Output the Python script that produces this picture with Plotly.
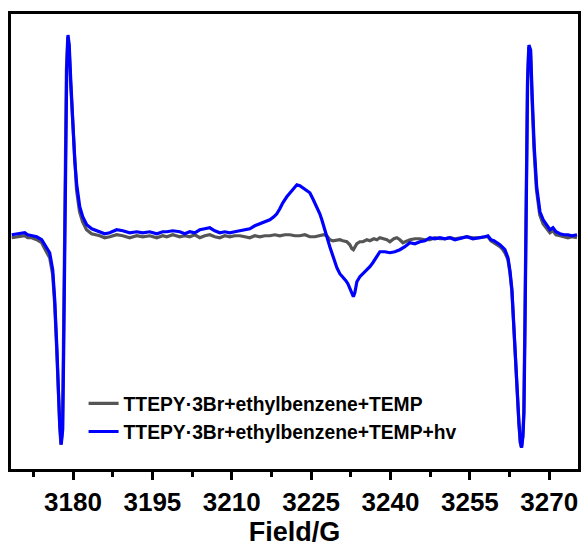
import plotly.graph_objects as go

# Field (G) and intensity (a.u.)
field_dark = [3168.41, 3169.92, 3170.87, 3171.44, 3172.19, 3173.14, 3174.08, 3174.65, 3175.59, 3176.16,
              3176.54, 3176.92, 3177.20, 3177.49, 3177.71, 3178.00, 3178.18, 3178.37, 3178.56, 3178.75,
              3179.00, 3179.24, 3179.53, 3179.91, 3180.28, 3180.66, 3181.23, 3181.80, 3182.55, 3183.50,
              3185.05, 3185.99, 3186.94, 3188.26, 3189.40, 3190.72, 3192.04, 3193.18, 3194.50, 3195.83,
              3196.96, 3197.72, 3198.85, 3200.17, 3201.12, 3202.06, 3203.01, 3203.96, 3204.90, 3205.85,
              3206.79, 3207.74, 3208.68, 3209.63, 3210.57, 3211.52, 3212.46, 3213.41, 3214.35, 3215.30,
              3216.24, 3217.19, 3218.14, 3219.08, 3220.03, 3220.97, 3221.92, 3222.86, 3223.81, 3224.75,
              3225.70, 3226.64, 3227.40, 3227.97, 3228.53, 3229.10, 3229.86, 3230.42, 3230.99, 3231.75,
              3232.32, 3232.69, 3232.98, 3233.26, 3233.64, 3234.21, 3234.77, 3235.53, 3236.10, 3236.85,
              3237.42, 3237.99, 3238.56, 3239.31, 3239.88, 3240.63, 3241.20, 3241.77, 3242.34, 3243.09,
              3243.66, 3244.61, 3245.55, 3246.50, 3247.44, 3248.39, 3249.33, 3250.28, 3251.22, 3252.17,
              3253.11, 3254.44, 3255.57, 3256.89, 3257.84, 3258.41, 3258.97, 3259.54, 3260.11, 3260.68,
              3261.24, 3261.62, 3262.19, 3262.57, 3262.94, 3263.32, 3263.89, 3264.27, 3264.51, 3264.74,
              3264.99, 3265.18, 3265.37, 3265.56, 3265.69, 3265.88, 3266.12, 3266.44, 3266.74, 3267.12,
              3267.58, 3268.20, 3268.82, 3269.47, 3270.13, 3270.70, 3271.26, 3272.02, 3272.78, 3273.53,
              3274.29, 3275.24]
signal_dark = [-2, -1, 0, -2, -2, -4, -7, -13, -22, -39,
               -69, -114, -157, -191, -209, -194, -114, -17, 86, 166,
               199, 189, 154, 114, 71, 46, 24, 14, 6, 2,
               0, -2, -1, 1, 0, -2, 0, -1, 0, -2,
               0, -1, 1, -1, 0, -1, 1, -2, 0, 1,
               -1, -2, 0, -1, 0, 0, -1, -2, 0, -1,
               0, 0, 1, 0, 1, 1, 0, 0, 1, -1,
               -1, 0, 1, 0, -4, -5, -4, -4, -5, -6,
               -9, -13, -14, -11, -8, -6, -6, -4, -5, -3,
               -4, -2, -3, -4, -6, -3, -2, -4, -7, -5,
               -4, -3, -3, -4, -4, -2, -3, -3, -2, -3,
               -2, -1, -2, -2, -1, -1, -5, -7, -9, -11,
               -14, -17, -24, -37, -56, -97, -147, -189, -207, -212,
               -201, -177, -94, 6, 73, 154, 189, 184, 137, 86,
               46, 21, 12, 7, 3, 5, 1, 0, -1, -2,
               -1, -2]

field_light = [3168.41, 3169.92, 3170.87, 3171.44, 3172.19, 3173.14, 3174.08, 3174.65, 3175.59, 3176.16,
               3176.54, 3176.92, 3177.20, 3177.49, 3177.77, 3178.05, 3178.24, 3178.43, 3178.62, 3178.81,
               3179.05, 3179.28, 3179.57, 3179.94, 3180.32, 3180.70, 3181.27, 3181.83, 3182.59, 3183.54,
               3185.05, 3185.99, 3186.94, 3188.26, 3189.40, 3190.72, 3192.04, 3193.18, 3194.50, 3195.83,
               3196.96, 3197.72, 3198.85, 3200.17, 3201.12, 3202.06, 3203.01, 3203.96, 3204.90, 3205.85,
               3206.79, 3207.74, 3208.68, 3209.63, 3210.57, 3211.52, 3212.46, 3213.41, 3214.35, 3215.30,
               3216.24, 3217.19, 3217.95, 3218.51, 3219.08, 3219.65, 3220.40, 3220.97, 3221.73, 3222.30,
               3222.86, 3223.43, 3224.00, 3224.75, 3225.32, 3226.08, 3226.64, 3227.02, 3227.59, 3227.97,
               3228.53, 3228.91, 3229.48, 3229.86, 3230.42, 3230.99, 3231.56, 3231.94, 3232.32, 3232.69,
               3232.98, 3233.26, 3233.64, 3234.21, 3234.77, 3235.53, 3236.10, 3236.66, 3237.42, 3237.99,
               3238.93, 3239.88, 3240.82, 3241.77, 3242.71, 3243.66, 3244.61, 3245.55, 3246.50, 3247.44,
               3248.39, 3249.33, 3250.28, 3251.22, 3252.17, 3253.11, 3254.44, 3255.57, 3256.89, 3257.84,
               3258.41, 3258.97, 3259.54, 3260.11, 3260.68, 3261.24, 3261.62, 3262.19, 3262.57, 3262.94,
               3263.32, 3263.89, 3264.27, 3264.55, 3264.78, 3265.03, 3265.22, 3265.41, 3265.59, 3265.73,
               3265.91, 3266.16, 3266.48, 3266.78, 3267.16, 3267.62, 3268.24, 3268.86, 3269.50, 3270.13,
               3270.70, 3271.26, 3272.02, 3272.78, 3273.53, 3274.29, 3275.24]
signal_light = [1, 2, 3, 1, 0, -1, -4, -9, -17, -34,
                -64, -109, -154, -189, -209, -194, -114, -17, 86, 166,
                201, 191, 156, 116, 76, 51, 29, 19, 11, 7,
                4, 2, 3, 6, 5, 3, 4, 3, 4, 2,
                4, 4, 5, 4, 2, 4, 3, 6, 7, 8,
                5, 3, 4, 3, 4, 5, 6, 7, 10, 12,
                14, 16, 19, 22, 27, 33, 39, 43, 48, 51,
                50, 48, 46, 43, 37, 29, 22, 16, 5, -1,
                -11, -17, -26, -32, -38, -41, -45, -48, -53, -59,
                -61, -57, -46, -41, -38, -35, -31, -27, -21, -16,
                -16, -17, -16, -14, -11, -7, -8, -6, -5, -2,
                -3, -2, -3, -2, -4, -3, -1, -3, -2, -1,
                0, -4, -5, -7, -9, -12, -14, -22, -35, -54,
                -94, -144, -187, -207, -212, -200, -177, -94, 6, 73,
                156, 191, 186, 139, 89, 49, 24, 16, 11, 6,
                8, 4, 2, 1, 1, 0, 1]

series_names = ["TTEPY\u00b73Br+ethylbenzene+TEMP", "TTEPY\u00b73Br+ethylbenzene+TEMP+hv"]
series_colors = ["#555555", "#0000ff"]
tick_vals = [3180, 3195, 3210, 3225, 3240, 3255, 3270]
x_title = "Field/G"

fig = go.Figure()
fig.add_trace(go.Scatter(x=field_dark, y=signal_dark, mode="lines", name=series_names[0],
                         line=dict(color=series_colors[0], width=3.2)))
fig.add_trace(go.Scatter(x=field_light, y=signal_light, mode="lines", name=series_names[1],
                         line=dict(color=series_colors[1], width=3.2)))

fig.update_layout(
    width=582, height=547,
    margin=dict(l=11, r=4, t=14, b=78, autoexpand=False),
    paper_bgcolor="white", plot_bgcolor="white",
    font=dict(family="Arial, Liberation Sans, sans-serif", color="black"),
    showlegend=True,
    legend=dict(x=0.128, y=0.186, xanchor="left", yanchor="top",
                bgcolor="rgba(0,0,0,0)",
                font=dict(size=19.3, weight="bold", color="black"),
                tracegroupgap=0),
    xaxis=dict(range=[3168.28, 3275.43], tickmode="array", tickvals=tick_vals,
               ticktext=[str(v) for v in tick_vals],
               ticks="outside", ticklen=8, tickwidth=2.5, tickcolor="black",
               tickfont=dict(size=26, weight="bold"),
               minor=dict(tickmode="linear", tick0=3172.5, dtick=7.5, ticks="outside",
                          ticklen=5, tickwidth=2.5, tickcolor="black", showgrid=False),
               showline=True, linecolor="black", linewidth=3, mirror=True,
               showgrid=False, zeroline=False, automargin=False,
               title=dict(text=x_title, font=dict(size=27, weight="bold"), standoff=13)),
    yaxis=dict(range=[-233.5, 222], showticklabels=False, ticks="",
               showline=True, linecolor="black", linewidth=3, mirror=True,
               showgrid=False, zeroline=False, automargin=False),
)

fig.write_html("out.html")
